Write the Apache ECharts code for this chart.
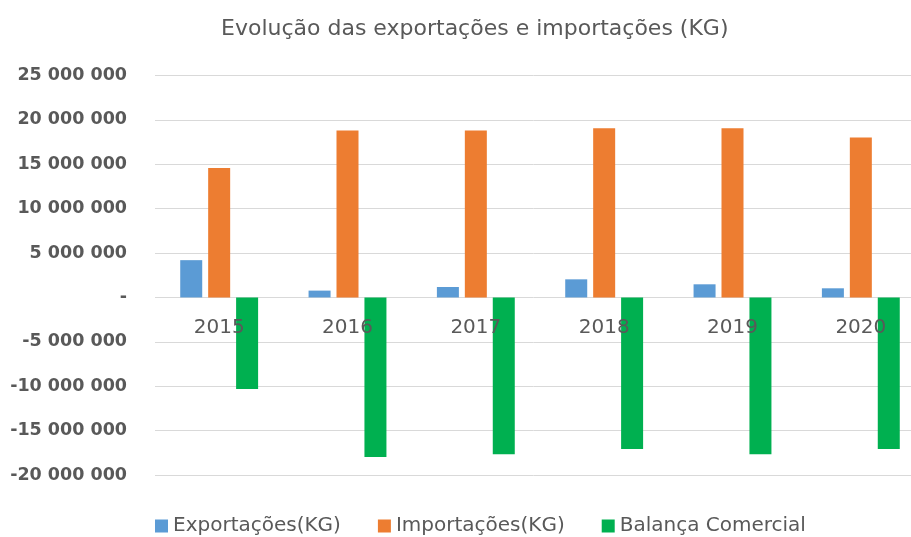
<!DOCTYPE html>
<html>
<head>
<meta charset="utf-8">
<script src="https://cdn.jsdelivr.net/npm/echarts@6/dist/echarts.min.js"></script>
<style>html,body{margin:0;padding:0;background:#fff;}#c{width:911px;height:537px;}</style>
</head>
<body>
<div id="c"></div>
<script>
var categories = ['2015', '2016', '2017', '2018', '2019', '2020'];
var exportacoes = [4200000, 770000, 1180000, 2040000, 1480000, 1030000];
var importacoes = [14580000, 18800000, 18800000, 19050000, 19050000, 18030000];
var balanca = [-10300000, -17960000, -17660000, -17060000, -17660000, -17060000];
var seriesNames = ['Exportações(KG)', 'Importações(KG)', 'Balança Comercial'];

function fmt(v) {
  if (v === 0) return '-';
  var s = String(Math.abs(v)).replace(/\B(?=(\d{3})+(?!\d))/g, ' ');
  return (v < 0 ? '-' : '') + s;
}

var chart = echarts.init(document.getElementById('c'));
chart.setOption({
  animation: false,
  backgroundColor: '#fff',
  title: {
    text: 'Evolução das exportações e importações (KG)',
    left: 216, top: 13,
    textStyle: { fontFamily: 'DejaVu Sans', fontSize: 22, fontWeight: 'normal', color: '#595959' }
  },
  legend: {
    left: 150, top: 511,
    itemWidth: 13, itemHeight: 13, itemGap: 37, icon: 'rect',
    textStyle: { fontFamily: 'DejaVu Sans', fontSize: 20, color: '#595959' },
    data: seriesNames
  },
  grid: { left: 155, right: -14, top: 75.5, bottom: 62, containLabel: false, outerBoundsMode: 'none' },
  xAxis: {
    type: 'category', data: categories, z: 5,
    position: 'bottom', offset: -177.5,
    axisLine: { show: false, onZero: false },
    axisTick: { show: false },
    axisLabel: { fontFamily: 'DejaVu Sans', fontSize: 20, color: '#595959', margin: 20 }
  },
  yAxis: {
    type: 'value', min: -20000000, max: 25000000, interval: 5000000,
    axisLine: { show: false }, axisTick: { show: false },
    splitLine: { lineStyle: { color: '#d9d9d9', width: 1 } },
    axisLabel: { fontFamily: 'DejaVu Sans', fontWeight: 'bold', fontSize: 17.5, color: '#595959', margin: 28, formatter: fmt }
  },
  series: [
    { name: seriesNames[0], type: 'bar', data: exportacoes, barWidth: 22, barGap: '27%', itemStyle: { color: '#5b9bd5' } },
    { name: seriesNames[1], type: 'bar', data: importacoes, barWidth: 22, barGap: '27%', itemStyle: { color: '#ed7d31' } },
    { name: seriesNames[2], type: 'bar', data: balanca, barWidth: 22, barGap: '27%', itemStyle: { color: '#00b050' } }
  ]
});
</script>
</body>
</html>
